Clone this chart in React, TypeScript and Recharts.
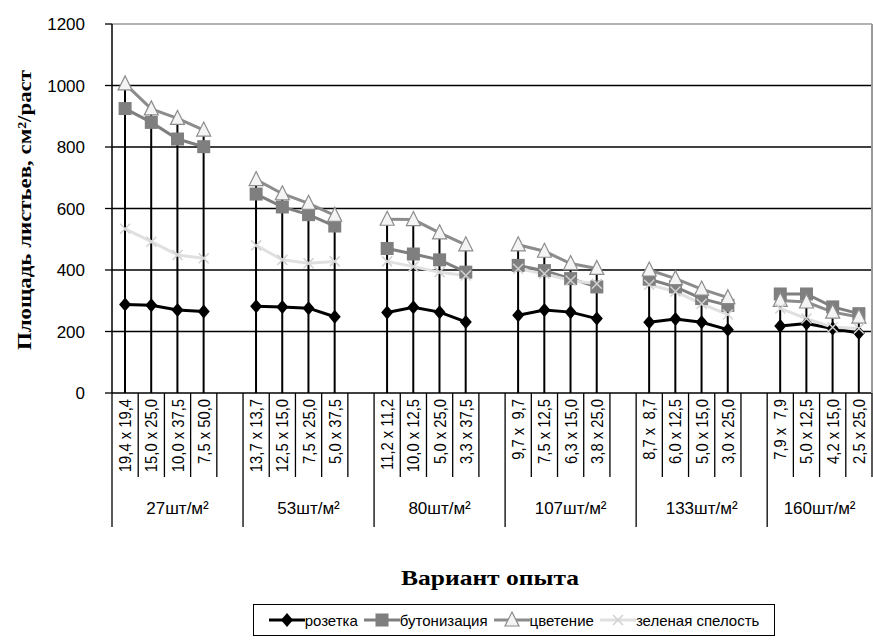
import React from 'react';
import { ComposedChart, Line, Bar, XAxis, YAxis, CartesianGrid, ReferenceLine } from 'recharts';

// подписи вариантов (пустая строка = промежуток между группами)
const variants = [
  '19,4 x 19,4', '15,0 x 25,0', '10,0 x 37,5', '7,5 x 50,0', '',
  '13,7 x 13,7', '12,5 x 15,0', '7,5 x 25,0', '5,0 x 37,5', '',
  '11,2 x 11,2', '10,0 x 12,5', '5,0 x 25,0', '3,3 x 37,5', '',
  '9,7 x  9,7', '7,5 x 12,5', '6,3 x 15,0', '3,8 x 25,0', '',
  '8,7 x  8,7', '6,0 x 12,5', '5,0 x 15,0', '3,0 x 25,0', '',
  '7,9 x  7,9', '5,0 x 12,5', '4,2 x 15,0', '2,5 x 25,0',
];
const groups = ['27шт/м²', '53шт/м²', '80шт/м²', '107шт/м²', '133шт/м²', '160шт/м²'];

const rosette = [288, 285, 270, 265, null, 282, 280, 276, 248, null, 262, 279, 263, 231, null, 253, 270, 263, 242, null, 230, 241, 230, 206, null, 218, 226, 210, 195];
const budding = [925, 880, 826, 801, null, 647, 605, 580, 543, null, 470, 452, 433, 393, null, 415, 398, 372, 345, null, 370, 345, 307, 285, null, 322, 322, 280, 258];
const flowering = [1005, 924, 893, 855, null, 694, 648, 617, 578, null, 565, 564, 521, 482, null, 482, 461, 421, 405, null, 400, 372, 338, 310, null, 301, 296, 263, 247];
const greenRipe = [534, 492, 449, 438, null, 480, 433, 422, 428, null, 428, 411, 393, 382, null, 404, 388, 366, 355, null, 352, 330, 290, 255, null, 275, 242, 214, 210];

const yTicks = [0, 200, 400, 600, 800, 1000, 1200];

const data = variants.map((label, i) => {
  const vals = [rosette[i], budding[i], flowering[i], greenRipe[i]].filter((v) => v != null) as number[];
  return {
    key: 'c' + i,
    label,
    rosette: rosette[i],
    budding: budding[i],
    flowering: flowering[i],
    greenRipe: greenRipe[i],
    top: vals.length ? Math.max(...vals) : null,
  };
});

const W = 873;
const H = 644;
const M = { top: 24, right: 1, left: 52, bottom: 91 };
const Y_AXIS_W = 60;
const X_AXIS_H = 160;
const PLOT_W = W - M.left - M.right - Y_AXIS_W;
const BAND = PLOT_W / variants.length;
const AXIS_Y = H - M.bottom - X_AXIS_H;

const sans = '"Liberation Sans", Arial, sans-serif';
const serif = '"Liberation Serif", "Times New Roman", serif';

const Diamond = ({ cx, cy }: { cx: number; cy: number }) => (
  <path d={`M${cx},${cy - 7}L${cx + 6},${cy}L${cx},${cy + 7}L${cx - 6},${cy}Z`} fill="#000" />
);
const Square = ({ cx, cy }: { cx: number; cy: number }) => (
  <rect x={cx - 6.5} y={cy - 6.5} width={13} height={13} fill="#7f7f7f" />
);
const Triangle = ({ cx, cy }: { cx: number; cy: number }) => (
  <path d={`M${cx},${cy - 8}L${cx + 7},${cy + 6}L${cx - 7},${cy + 6}Z`} fill="#f4f4f4" stroke="#8c8c8c" strokeWidth={1.2} />
);
const Cross = ({ cx, cy }: { cx: number; cy: number }) => (
  <path d={`M${cx - 5},${cy - 5}L${cx + 5},${cy + 5}M${cx - 5},${cy + 5}L${cx + 5},${cy - 5}`} stroke="#d2d2d2" strokeWidth={1.5} />
);

const dotWith = (Shape: any) => (p: any) => {
  if (p.value == null || p.cy == null) return <g key={p.index} />;
  return <Shape key={p.index} cx={p.cx} cy={p.cy} />;
};

const series = [
  { key: 'rosette', name: 'розетка', color: '#000', width: 3, Shape: Diamond },
  { key: 'budding', name: 'бутонизация', color: '#7f7f7f', width: 3, Shape: Square },
  { key: 'flowering', name: 'цветение', color: '#8c8c8c', width: 3, Shape: Triangle },
  { key: 'greenRipe', name: 'зеленая спелость', color: '#e0e0e0', width: 3, Shape: Cross },
];

const XTick = (props: any) => {
  const { x, index } = props;
  const left = x - BAND / 2;
  const groupStart = index % 5 === 0;
  const g = Math.floor(index / 5);
  const n = g === groups.length - 1 ? variants.length - 5 * g : 5;
  return (
    <g>
      <line x1={left} y1={AXIS_Y} x2={left} y2={groupStart ? 527 : 477} stroke="#000" strokeWidth={1.3} />
      {index === variants.length - 1 && (
        <line x1={left + BAND} y1={AXIS_Y} x2={left + BAND} y2={477} stroke="#000" strokeWidth={1.3} />
      )}
      <text
        x={0}
        y={0}
        transform={`translate(${x + 6} 399) rotate(-90) scale(0.87 1)`}
        textAnchor="end"
        fontSize={17}
        fontFamily={sans}
        fill="#000"
        xmlSpace="preserve"
        style={{ whiteSpace: 'pre' }}
      >
        {variants[index]}
      </text>
      {groupStart && (
        <text x={left + (n * BAND) / 2} y={514} textAnchor="middle" fontSize={17} fontFamily={sans} fill="#000">
          {groups[g]}
        </text>
      )}
    </g>
  );
};

export default function App() {
  return (
    <div style={{ position: 'absolute', left: 0, top: 0, width: W, height: H, background: '#fff' }}>
      <ComposedChart width={W} height={H} data={data} margin={M}>
        <CartesianGrid horizontal vertical={false} stroke="#000" strokeWidth={1.3} horizontalValues={[200, 400, 600, 800, 1000]} />
        <ReferenceLine y={1200} stroke="#9a9a9a" strokeWidth={1.5} />
        <XAxis
          dataKey="key"
          interval={0}
          tickLine={false}
          height={X_AXIS_H}
          axisLine={{ stroke: '#000', strokeWidth: 1.5 }}
          tick={<XTick />}
        />
        <YAxis
          domain={[0, 1200]}
          ticks={yTicks}
          width={Y_AXIS_W}
          tickSize={7}
          tickMargin={20}
          axisLine={{ stroke: '#000', strokeWidth: 1.5 }}
          tickLine={{ stroke: '#000', strokeWidth: 1.3 }}
          tick={{ fontSize: 17, fontFamily: sans, fill: '#000' }}
        />
        <Bar dataKey="top" barSize={2} fill="#000" isAnimationActive={false} />
        {series.map((s) => (
          <Line
            key={s.key}
            dataKey={s.key}
            stroke={s.color}
            strokeWidth={s.width}
            dot={dotWith(s.Shape)}
            activeDot={false}
            isAnimationActive={false}
          />
        ))}
      </ComposedChart>
      <div
        style={{
          position: 'absolute',
          left: W - M.right - 1,
          top: M.top,
          width: 1.5,
          height: AXIS_Y - M.top,
          background: '#9a9a9a',
        }}
      />
      <svg width={W} height={H} style={{ position: 'absolute', left: 0, top: 0, pointerEvents: 'none' }}>
        <text
          x={31}
          y={210}
          transform="rotate(-90 31 210)"
          textAnchor="middle"
          fontFamily={serif}
          fontWeight="bold"
          fontSize={19}
          textLength={280}
          lengthAdjust="spacingAndGlyphs"
        >
          Площадь листьев, см²/раст
        </text>
        <text
          x={490}
          y={585}
          textAnchor="middle"
          fontFamily={serif}
          fontWeight="bold"
          fontSize={22}
          textLength={178}
          lengthAdjust="spacingAndGlyphs"
        >
          Вариант опыта
        </text>
      </svg>
      <div
        style={{
          position: 'absolute',
          left: 253,
          top: 604,
          width: 522,
          height: 32,
          border: '1.5px solid #000',
          boxSizing: 'border-box',
          display: 'flex',
          alignItems: 'center',
          justifyContent: 'center',
          gap: 6,
          fontFamily: sans,
          fontSize: 15,
        }}
      >
        {series.map((s) => (
          <div key={s.key} style={{ display: 'flex', alignItems: 'center' }}>
            <svg width={36} height={20}>
              <line x1={0} y1={10} x2={36} y2={10} stroke={s.color} strokeWidth={s.width} />
              <s.Shape cx={18} cy={10} />
            </svg>
            <span>{s.name}</span>
          </div>
        ))}
      </div>
    </div>
  );
}
